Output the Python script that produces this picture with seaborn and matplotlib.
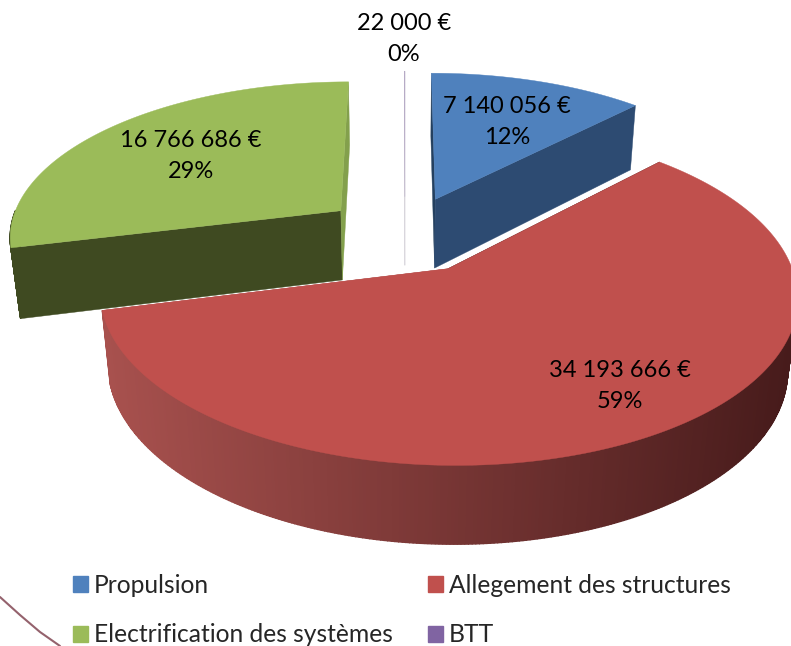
import numpy as np
import matplotlib
matplotlib.use("Agg")
import matplotlib.pyplot as plt
from matplotlib.patches import Patch, Polygon
import seaborn as sns

categories = ["Propulsion", "Allegement des structures", "Electrification des systèmes", "BTT"]
amounts = [7140056, 34193666, 16766686, 22000]
amount_labels = ["7 140 056 €", "34 193 666 €", "16 766 686 €", "22 000 €"]
pct_labels = ["12%", "59%", "29%", "0%"]

top_colors = ["#4f81bd", "#c0504d", "#9bbb59", "#b3a6c4"]
wall_left = ["#2d4b72", "#a8514e", "#3f4a21", "#d6d3da"]
wall_right = ["#2d4b72", "#471b1b", "#3f4a21", "#d6d3da"]
cut_start = ["#24405f", "#471b1b", "#3f4a21", "#d6d3da"]
cut_end = ["#2d4b72", "#a8514e", "#83a04c", "#d6d3da"]
label_pos = [(507, 122), (620, 386), (191, 156), (404, 39)]

# stray bit of a logo cut off in the bottom left corner
stray_x = [0, 20, 40, 60]
stray_y = [597, 615, 632, 646]

# projection of the tilted pie, in screen pixels
CX, CY = 405, 234
RX, RY = 333, 155
K = 0.152
DEPTH = 72
M = 0.025
EXPLODE = 0.25


def project(u, v, low=False):
    w = 1 - K * v
    if low:
        return CX + RX * u / (w + M), CY + (RY * v + DEPTH) / (w + M)
    return CX + RX * u / w, CY + RY * v / w


def slice_points(start, end, n=400):
    mid = (start + end) / 2
    ax0, ay0 = EXPLODE * np.sin(mid), -EXPLODE * np.cos(mid)
    t = np.linspace(start, end, n)
    return t, ax0, ay0, ax0 + np.sin(t), ay0 - np.cos(t)


def draw_slice(ax, start, end, top, left, right, c_start, c_end):
    t, a_u, a_v, u, v = slice_points(start, end)
    pal = sns.blend_palette([left, right], 256)

    # the two cut faces
    for i, face in [(0, c_start), (-1, c_end)]:
        x0, y0 = project(a_u, a_v)
        x1, y1 = project(u[i], v[i])
        x2, y2 = project(u[i], v[i], low=True)
        x3, y3 = project(a_u, a_v, low=True)
        ax.add_patch(Polygon([(x0, y0), (x1, y1), (x2, y2), (x3, y3)], fc=face, ec=face, lw=0.3))

    # outer wall, shaded from left to right, only the part facing the viewer
    xt, yt = project(u, v)
    xb, yb = project(u, v, low=True)
    for i in range(len(u) - 1):
        if -np.cos(t[i]) < 0:
            continue
        f = np.clip((xt[i] - 102) / (791 - 102), 0, 1)
        c = pal[int(f * 255)]
        ax.add_patch(Polygon([(xt[i], yt[i]), (xt[i + 1], yt[i + 1]), (xb[i + 1], yb[i + 1]), (xb[i], yb[i])],
                             fc=c, ec=c, lw=1.0))

    x0, y0 = project(a_u, a_v)
    pts = [(x0, y0)] + list(zip(xt, yt))
    ax.add_patch(Polygon(pts, fc=top, ec=top, lw=0.3))


sns.set_theme(style="white")
plt.rcParams["font.family"] = ["Lato", "DejaVu Sans"]

fig, ax = plt.subplots(figsize=(7.91, 6.46), dpi=100)
fig.subplots_adjust(left=0, right=1, top=1, bottom=0)
ax.set_xlim(0, 791)
ax.set_ylim(646, 0)
ax.axis("off")

angles = np.cumsum([0] + amounts) / sum(amounts) * 2 * np.pi
for i in [3, 0, 2, 1]:
    draw_slice(ax, angles[i], angles[i + 1], top_colors[i], wall_left[i], wall_right[i], cut_start[i], cut_end[i])

for i in range(len(categories)):
    ax.text(label_pos[i][0], label_pos[i][1], amount_labels[i] + "\n" + pct_labels[i],
            ha="center", va="center", fontsize=17, color="black", linespacing=1.55)

ax.plot(stray_x, stray_y, color="#7a3b48", lw=1.5, alpha=0.8)

legend_colors = ["#4f81bd", "#c0504d", "#9bbb59", "#8064a2"]
handles = [Patch(fc=c, ec=c) for c in legend_colors]
order = [0, 2, 1, 3]
ax.legend([handles[i] for i in order], [categories[i] for i in order], ncol=2, frameon=False,
          loc="lower left", bbox_to_anchor=(53 / 791, -0.031), fontsize=17.7,
          handlelength=0.62, handleheight=0.62, handletextpad=0.23, labelspacing=1.09, columnspacing=1.45,
          borderpad=0.3)

fig.savefig("out.png", dpi=100)
